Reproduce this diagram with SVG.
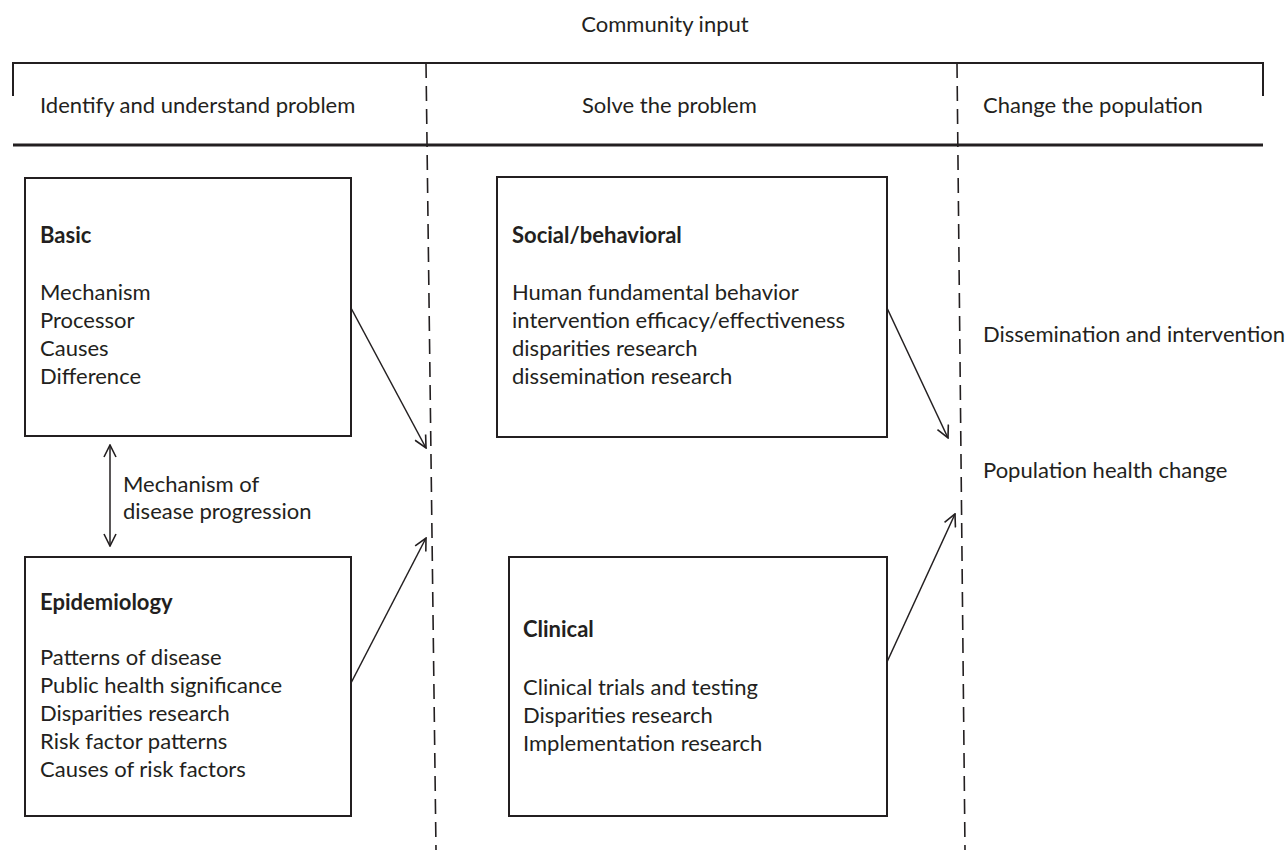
<svg xmlns="http://www.w3.org/2000/svg" width="1286" height="850" viewBox="0 0 1286 850">
<style>
text{font-family:Lato,"Open Sans","Liberation Sans",sans-serif;font-size:22px;fill:#231f20}
.b{font-weight:bold}
.box{fill:none;stroke:#231f20;stroke-width:2}
.rule{stroke:#231f20;fill:none}
.dash{stroke:#231f20;stroke-width:1.6;stroke-dasharray:15 8;fill:none}
.arr{stroke:#231f20;stroke-width:1.5;fill:none;marker-end:url(#ah)}
</style>
<defs>
<marker id="ah" viewBox="0 0 14 14" refX="13" refY="7" markerWidth="14" markerHeight="14" markerUnits="userSpaceOnUse" orient="auto-start-reverse">
<path d="M1,1 L13,7 L1,13" fill="none" stroke="#231f20" stroke-width="1.6"/>
</marker>
</defs>
<rect width="1286" height="850" fill="#fff"/>
<g id="header">
<text x="665" y="32" text-anchor="middle">Community input</text>
<path class="rule" stroke-width="2" d="M13,96 V63 H1263 V96"/>
<path class="rule" stroke-width="3" d="M13,145 H1263"/>
<text x="40" y="113">Identify and understand problem</text>
<text x="582" y="113">Solve the problem</text>
<text x="983" y="113">Change the population</text>
</g>
<g id="dividers">
<line class="dash" x1="426" y1="63" x2="436" y2="850"/>
<line class="dash" x1="957" y1="63" x2="965" y2="850"/>
</g>
<g id="basic">
<rect class="box" x="25" y="178" width="326" height="258"/>
<text x="40" y="243" class="b">Basic</text>
<text x="40" y="300">Mechanism</text>
<text x="40" y="328">Processor</text>
<text x="40" y="356">Causes</text>
<text x="40" y="384">Difference</text>
</g>
<g id="epidemiology">
<rect class="box" x="25" y="557" width="326" height="259"/>
<text x="40" y="610" class="b">Epidemiology</text>
<text x="40" y="665">Patterns of disease</text>
<text x="40" y="693">Public health significance</text>
<text x="40" y="721">Disparities research</text>
<text x="40" y="749">Risk factor patterns</text>
<text x="40" y="777">Causes of risk factors</text>
</g>
<g id="social">
<rect class="box" x="497" y="177" width="390" height="260"/>
<text x="512" y="243" class="b">Social/behavioral</text>
<text x="512" y="300">Human fundamental behavior</text>
<text x="512" y="328">intervention efficacy/effectiveness</text>
<text x="512" y="356">disparities research</text>
<text x="512" y="384">dissemination research</text>
</g>
<g id="clinical">
<rect class="box" x="509" y="557" width="378" height="259"/>
<text x="523" y="637" class="b">Clinical</text>
<text x="523" y="695">Clinical trials and testing</text>
<text x="523" y="723">Disparities research</text>
<text x="523" y="751">Implementation research</text>
</g>
<g id="outcomes">
<text x="983" y="342">Dissemination and intervention</text>
<text x="983" y="478">Population health change</text>
</g>
<g id="link-label">
<text x="123" y="492">Mechanism of</text>
<text x="123" y="519">disease progression</text>
</g>
<g id="connectors">
<line class="arr" x1="110" y1="445" x2="110" y2="546" style="marker-start:url(#ah)"/>
<line class="arr" x1="351" y1="308" x2="426" y2="448"/>
<line class="arr" x1="351" y1="683" x2="426" y2="538"/>
<line class="arr" x1="887" y1="308" x2="948" y2="438"/>
<line class="arr" x1="887" y1="662" x2="955" y2="514"/>
</g>
</svg>
